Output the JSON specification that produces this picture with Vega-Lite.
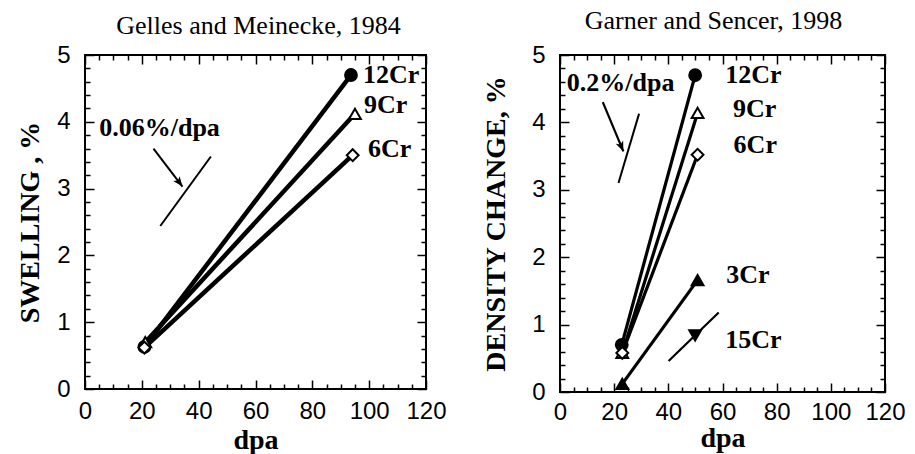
{
  "$schema": "https://vega.github.io/schema/vega-lite/v6.json",
  "padding": {"left": 15, "top": 7, "right": 0, "bottom": 0},
  "spacing": 33,
  "config": {
    "view": {"stroke": "black", "strokeWidth": 2},
    "axis": {
      "domain": false, "grid": false,
      "tickColor": "black", "tickWidth": 1.5,
      "labelFont": "Liberation Sans", "labelFontSize": 24, "labelColor": "black",
      "titleFont": "Liberation Serif", "titleFontSize": 28, "titleFontWeight": "bold", "titleColor": "black"
    },
    "title": {"font": "Liberation Serif", "fontSize": 26, "fontWeight": "normal", "color": "black"}
  },
  "datasets": {
    "gm": [
      {"series": "12Cr", "dpa": 20.9, "val": 0.63}, {"series": "12Cr", "dpa": 93.6, "val": 4.70},
      {"series": "9Cr", "dpa": 21.2, "val": 0.70}, {"series": "9Cr", "dpa": 95.0, "val": 4.12},
      {"series": "6Cr", "dpa": 20.9, "val": 0.62}, {"series": "6Cr", "dpa": 94.2, "val": 3.50}
    ],
    "gs": [
      {"series": "12Cr", "dpa": 22.8, "val": 0.70}, {"series": "12Cr", "dpa": 49.9, "val": 4.70},
      {"series": "9Cr", "dpa": 23.0, "val": 0.58}, {"series": "9Cr", "dpa": 50.8, "val": 4.14},
      {"series": "6Cr", "dpa": 23.0, "val": 0.58}, {"series": "6Cr", "dpa": 50.8, "val": 3.52},
      {"series": "3Cr", "dpa": 23.0, "val": 0.12}, {"series": "3Cr", "dpa": 50.8, "val": 1.66},
      {"series": "15Cr", "dpa": 49.9, "val": 0.84}
    ],
    "refL": [
      {"kind": "slope", "dpa": 26.5, "val": 2.44, "dpa2": 44.3, "val2": 3.48},
      {"kind": "arrow", "dpa": 24.1, "val": 3.60, "dpa2": 34.3, "val2": 3.03}
    ],
    "refR": [
      {"kind": "slope", "dpa": 21.6, "val": 3.10, "dpa2": 29.2, "val2": 4.13},
      {"kind": "arrow", "dpa": 15.8, "val": 4.30, "dpa2": 23.4, "val2": 3.57},
      {"kind": "trend", "dpa": 40.1, "val": 0.46, "dpa2": 58.6, "val2": 1.18}
    ],
    "labL": [
      {"label": "12Cr", "dpa": 97.8, "val": 4.70},
      {"label": "9Cr", "dpa": 98.2, "val": 4.25},
      {"label": "6Cr", "dpa": 99.6, "val": 3.59},
      {"label": "0.06%/dpa", "dpa": 5.0, "val": 3.90}
    ],
    "labR": [
      {"label": "12Cr", "dpa": 61.0, "val": 4.70},
      {"label": "9Cr", "dpa": 63.9, "val": 4.20},
      {"label": "6Cr", "dpa": 64.1, "val": 3.67},
      {"label": "3Cr", "dpa": 61.4, "val": 1.74},
      {"label": "15Cr", "dpa": 61.0, "val": 0.77},
      {"label": "0.2%/dpa", "dpa": 2.5, "val": 4.58}
    ]
  },
  "hconcat": [
    {
      "width": 341, "height": 334,
      "title": {"text": "Gelles and Meinecke, 1984", "offset": 4, "dx": 3},
      "resolve": {"axis": {"x": "independent", "y": "independent"}},
      "layer": [
        {
          "data": {"name": "gm"},
          "mark": {"type": "line", "color": "black", "strokeWidth": 4.5},
          "encoding": {
            "x": {"field": "dpa", "type": "quantitative", "scale": {"domain": [0, 120], "nice": false},
              "axis": {"orient": "bottom", "title": "dpa", "values": [0,20,40,60,80,100,120], "tickSize": -9,
                "labelPadding": 19, "titlePadding": 3, "labelFlush": false}},
            "y": {"field": "val", "type": "quantitative", "scale": {"domain": [0, 5], "nice": false},
              "axis": {"orient": "left", "title": "SWELLING , %", "values": [0,1,2,3,4,5], "tickSize": -9,
                "labelPadding": 24, "titlePadding": 12, "labelFlush": false}},
            "detail": {"field": "series", "type": "nominal"}
          }
        },
        {
          "data": {"name": "refL"},
          "transform": [{"filter": "datum.kind === 'slope'"}],
          "mark": {"type": "rule", "color": "black", "strokeWidth": 2},
          "encoding": {
            "x": {"field": "dpa", "type": "quantitative",
              "axis": {"orient": "top", "title": null, "labels": false, "values": [0,20,40,60,80,100,120], "tickSize": -9}},
            "y": {"field": "val", "type": "quantitative",
              "axis": {"orient": "right", "title": null, "labels": false, "values": [0,1,2,3,4,5], "tickSize": -9}},
            "x2": {"field": "dpa2"},
            "y2": {"field": "val2"}
          }
        },
        {
          "data": {"name": "refL"},
          "transform": [{"filter": "datum.kind === 'arrow'"}],
          "mark": {"type": "rule", "color": "black", "strokeWidth": 2},
          "encoding": {
            "x": {"field": "dpa", "type": "quantitative",
              "axis": {"orient": "bottom", "title": null, "labels": false, "values": [5,10,15,25,30,35,45,50,55,65,70,75,85,90,95,105,110,115], "tickSize": -5}},
            "y": {"field": "val", "type": "quantitative",
              "axis": {"orient": "left", "title": null, "labels": false, "values": [0.2,0.4,0.6,0.8,1.2,1.4,1.6,1.8,2.2,2.4,2.6,2.8,3.2,3.4,3.6,3.8,4.2,4.4,4.6,4.8], "tickSize": -5}},
            "x2": {"field": "dpa2"},
            "y2": {"field": "val2"}
          }
        },
        {
          "data": {"name": "refL"},
          "transform": [{"filter": "datum.kind === 'arrow'"}],
          "mark": {"type": "point", "shape": "M0,0L-0.4,1L0,0.75L0.4,1Z", "filled": true, "color": "black", "size": 400, "angle": 143, "opacity": 1},
          "encoding": {
            "x": {"field": "dpa2", "type": "quantitative",
              "axis": {"orient": "top", "title": null, "labels": false, "values": [5,10,15,25,30,35,45,50,55,65,70,75,85,90,95,105,110,115], "tickSize": -5}},
            "y": {"field": "val2", "type": "quantitative",
              "axis": {"orient": "right", "title": null, "labels": false, "values": [0.2,0.4,0.6,0.8,1.2,1.4,1.6,1.8,2.2,2.4,2.6,2.8,3.2,3.4,3.6,3.8,4.2,4.4,4.6,4.8], "tickSize": -5}}
          }
        },
        {
          "data": {"name": "gm"},
          "mark": {"type": "point", "filled": true, "stroke": "black", "strokeWidth": 2, "size": 140, "opacity": 1},
          "encoding": {
            "x": {"field": "dpa", "type": "quantitative", "axis": null},
            "y": {"field": "val", "type": "quantitative", "axis": null},
            "shape": {"field": "series", "type": "nominal", "legend": null,
              "scale": {"domain": ["12Cr", "9Cr", "6Cr", "3Cr", "15Cr"], "range": ["circle", "triangle-up", "diamond", "triangle-up", "triangle-down"]}},
            "fill": {"field": "series", "type": "nominal", "legend": null,
              "scale": {"domain": ["12Cr", "9Cr", "6Cr", "3Cr", "15Cr"], "range": ["black", "white", "white", "black", "black"]}}
          }
        },
        {
          "data": {"name": "labL"},
          "mark": {"type": "text", "font": "Liberation Serif", "fontWeight": "bold", "fontSize": 26, "align": "left", "baseline": "middle", "color": "black"},
          "encoding": {
            "x": {"field": "dpa", "type": "quantitative", "axis": null},
            "y": {"field": "val", "type": "quantitative", "axis": null},
            "text": {"field": "label"}
          }
        }
      ]
    },
    {
      "width": 325, "height": 337,
      "title": {"text": "Garner and Sencer, 1998", "offset": 9, "dx": -9},
      "resolve": {"axis": {"x": "independent", "y": "independent"}},
      "layer": [
        {
          "data": {"name": "gs"},
          "mark": {"type": "line", "color": "black", "strokeWidth": 3.2},
          "encoding": {
            "x": {"field": "dpa", "type": "quantitative", "scale": {"domain": [0, 120], "nice": false},
              "axis": {"orient": "bottom", "title": "dpa", "values": [0,20,40,60,80,100,120], "tickSize": -9,
                "labelPadding": 17, "titlePadding": 0, "labelFlush": false}},
            "y": {"field": "val", "type": "quantitative", "scale": {"domain": [0, 5], "nice": false},
              "axis": {"orient": "left", "title": "DENSITY CHANGE, %", "values": [0,1,2,3,4,5], "tickSize": -9,
                "labelPadding": 24, "titlePadding": 21, "labelFlush": false}},
            "detail": {"field": "series", "type": "nominal"}
          }
        },
        {
          "data": {"name": "refR"},
          "transform": [{"filter": "datum.kind === 'slope'"}],
          "mark": {"type": "rule", "color": "black", "strokeWidth": 2},
          "encoding": {
            "x": {"field": "dpa", "type": "quantitative",
              "axis": {"orient": "top", "title": null, "labels": false, "values": [0,20,40,60,80,100,120], "tickSize": -9}},
            "y": {"field": "val", "type": "quantitative",
              "axis": {"orient": "right", "title": null, "labels": false, "values": [0,1,2,3,4,5], "tickSize": -9}},
            "x2": {"field": "dpa2"},
            "y2": {"field": "val2"}
          }
        },
        {
          "data": {"name": "refR"},
          "transform": [{"filter": "datum.kind !== 'slope'"}],
          "mark": {"type": "rule", "color": "black", "strokeWidth": 2.2},
          "encoding": {
            "x": {"field": "dpa", "type": "quantitative",
              "axis": {"orient": "bottom", "title": null, "labels": false, "values": [5,10,15,25,30,35,45,50,55,65,70,75,85,90,95,105,110,115], "tickSize": -5}},
            "y": {"field": "val", "type": "quantitative",
              "axis": {"orient": "left", "title": null, "labels": false, "values": [0.2,0.4,0.6,0.8,1.2,1.4,1.6,1.8,2.2,2.4,2.6,2.8,3.2,3.4,3.6,3.8,4.2,4.4,4.6,4.8], "tickSize": -5}},
            "x2": {"field": "dpa2"},
            "y2": {"field": "val2"}
          }
        },
        {
          "data": {"name": "refR"},
          "transform": [{"filter": "datum.kind === 'arrow'"}],
          "mark": {"type": "point", "shape": "M0,0L-0.4,1L0,0.75L0.4,1Z", "filled": true, "color": "black", "size": 400, "angle": 157, "opacity": 1},
          "encoding": {
            "x": {"field": "dpa2", "type": "quantitative",
              "axis": {"orient": "top", "title": null, "labels": false, "values": [5,10,15,25,30,35,45,50,55,65,70,75,85,90,95,105,110,115], "tickSize": -5}},
            "y": {"field": "val2", "type": "quantitative",
              "axis": {"orient": "right", "title": null, "labels": false, "values": [0.2,0.4,0.6,0.8,1.2,1.4,1.6,1.8,2.2,2.4,2.6,2.8,3.2,3.4,3.6,3.8,4.2,4.4,4.6,4.8], "tickSize": -5}}
          }
        },
        {
          "data": {"name": "gs"},
          "mark": {"type": "point", "filled": true, "stroke": "black", "strokeWidth": 2, "size": 140, "opacity": 1},
          "encoding": {
            "x": {"field": "dpa", "type": "quantitative", "axis": null},
            "y": {"field": "val", "type": "quantitative", "axis": null},
            "shape": {"field": "series", "type": "nominal", "legend": null,
              "scale": {"domain": ["12Cr", "9Cr", "6Cr", "3Cr", "15Cr"], "range": ["circle", "triangle-up", "diamond", "triangle-up", "triangle-down"]}},
            "fill": {"field": "series", "type": "nominal", "legend": null,
              "scale": {"domain": ["12Cr", "9Cr", "6Cr", "3Cr", "15Cr"], "range": ["black", "white", "white", "black", "black"]}}
          }
        },
        {
          "data": {"name": "labR"},
          "mark": {"type": "text", "font": "Liberation Serif", "fontWeight": "bold", "fontSize": 26, "align": "left", "baseline": "middle", "color": "black"},
          "encoding": {
            "x": {"field": "dpa", "type": "quantitative", "axis": null},
            "y": {"field": "val", "type": "quantitative", "axis": null},
            "text": {"field": "label"}
          }
        }
      ]
    }
  ]
}
